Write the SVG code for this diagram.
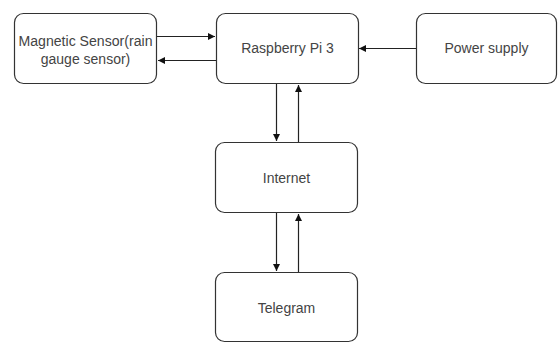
<svg xmlns="http://www.w3.org/2000/svg" width="558" height="343" viewBox="0 0 558 343">
<style>
.box{fill:#fff;stroke:#333;stroke-width:1.2}
.t{font-family:"Liberation Sans",Arial,sans-serif;font-size:14px;fill:#444;text-anchor:middle}
.c{stroke:#222;stroke-width:1.2;fill:none;marker-end:url(#ah)}
</style>
<defs>
<marker id="ah" viewBox="0 0 10 10" refX="10" refY="5" markerWidth="7" markerHeight="7" markerUnits="userSpaceOnUse" orient="auto">
<path d="M0,0 L10,5 L0,10 Z" fill="#111"/>
</marker>
</defs>
<rect width="558" height="343" fill="#fff"/>
<g id="magnetic"><rect class="box" x="14.5" y="13.5" width="142" height="70" rx="9"/>
<text class="t" x="85.5" y="45.5" textLength="134" lengthAdjust="spacingAndGlyphs">Magnetic Sensor(rain</text><text class="t" x="85.5" y="64">gauge sensor)</text></g>
<g id="raspberry"><rect class="box" x="216.5" y="13.5" width="142" height="70" rx="9"/>
<text class="t" x="287.5" y="53">Raspberry Pi 3</text></g>
<g id="power"><rect class="box" x="416.5" y="13.5" width="140" height="70" rx="9"/>
<text class="t" x="486.5" y="53">Power supply</text></g>
<g id="internet"><rect class="box" x="215.5" y="142.5" width="142" height="70" rx="9"/>
<text class="t" x="286.5" y="183">Internet</text></g>
<g id="telegram"><rect class="box" x="215.5" y="272.5" width="142" height="69" rx="9"/>
<text class="t" x="286.5" y="313">Telegram</text></g>
<g id="connectors">
<path class="c" d="M157,36.5 H215"/>
<path class="c" d="M216,60.5 H158"/>
<path class="c" d="M416,48.5 H359"/>
<path class="c" d="M276.5,84 V141"/>
<path class="c" d="M298.5,142 V85"/>
<path class="c" d="M276.5,213 V271"/>
<path class="c" d="M298.5,272 V214"/>
</g>
</svg>
